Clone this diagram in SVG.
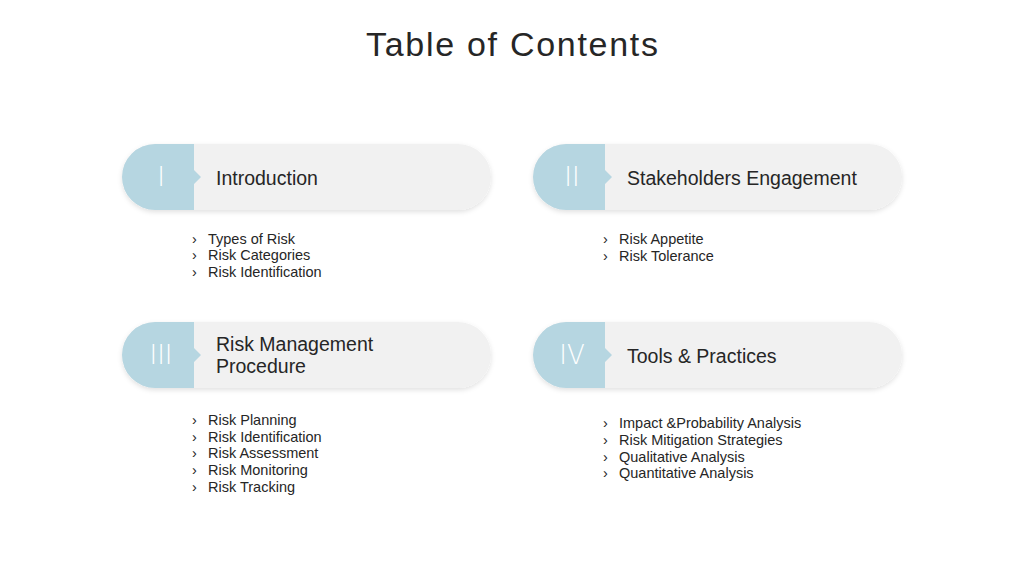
<svg xmlns="http://www.w3.org/2000/svg" width="1024" height="576" viewBox="0 0 1024 576">
<defs>
<style>
.t{font-family:"Liberation Sans",Arial,sans-serif;fill:#262626}
.h{font-size:19.5px}
.b{font-size:14.5px}
.n{font-family:"DejaVu Sans",sans-serif;font-weight:200;font-size:26px;fill:#fff;text-anchor:middle}
.pill{fill:#f1f1f1}
.blue{fill:#b6d6e1}
</style>
<filter id="sh" x="-10%" y="-30%" width="120%" height="160%"><feDropShadow dx="0" dy="2" stdDeviation="2.5" flood-color="#000" flood-opacity="0.12"/></filter>
<g id="card">
<rect class="pill" x="0" y="0" width="369" height="66" rx="33" filter="url(#sh)"/>
<path class="blue" d="M33,0 H72 V26 L79,33 L72,40 V66 H33 A33,33 0 0 1 33,0 Z"/>
</g>
</defs>
<rect width="1024" height="576" fill="#fff"/>
<text class="t" x="366" y="56" font-size="34" textLength="292" lengthAdjust="spacing">Table of Contents</text>
<g id="node1">
<use href="#card" x="122" y="144"/>
<text class="n" x="161" y="186">I</text>
<text class="t h" x="216" y="185">Introduction</text>
<g class="t b"><text x="192" y="244">›</text><text x="208" y="244">Types of Risk</text>
<text x="192" y="260">›</text><text x="208" y="260">Risk Categories</text>
<text x="192" y="277">›</text><text x="208" y="277">Risk Identification</text></g>
</g>
<g id="node2">
<use href="#card" x="533" y="144"/>
<text class="n" x="572" y="186">II</text>
<text class="t h" x="627" y="185">Stakeholders Engagement</text>
<g class="t b"><text x="603" y="244">›</text><text x="619" y="244">Risk Appetite</text>
<text x="603" y="261">›</text><text x="619" y="261">Risk Tolerance</text></g>
</g>
<g id="node3">
<use href="#card" x="122" y="322"/>
<text class="n" x="161" y="364">III</text>
<text class="t h" x="216" y="351">Risk Management</text>
<text class="t h" x="216" y="373">Procedure</text>
<g class="t b"><text x="192" y="425">›</text><text x="208" y="425">Risk Planning</text>
<text x="192" y="442">›</text><text x="208" y="442">Risk Identification</text>
<text x="192" y="458">›</text><text x="208" y="458">Risk Assessment</text>
<text x="192" y="475">›</text><text x="208" y="475">Risk Monitoring</text>
<text x="192" y="492">›</text><text x="208" y="492">Risk Tracking</text></g>
</g>
<g id="node4">
<use href="#card" x="533" y="322"/>
<text class="n" x="572" y="364">IV</text>
<text class="t h" x="627" y="363">Tools &amp; Practices</text>
<g class="t b"><text x="603" y="428">›</text><text x="619" y="428">Impact &amp;Probability Analysis</text>
<text x="603" y="445">›</text><text x="619" y="445">Risk Mitigation Strategies</text>
<text x="603" y="462">›</text><text x="619" y="462">Qualitative Analysis</text>
<text x="603" y="478">›</text><text x="619" y="478">Quantitative Analysis</text></g>
</g>
<g id="connectors"/>
</svg>
